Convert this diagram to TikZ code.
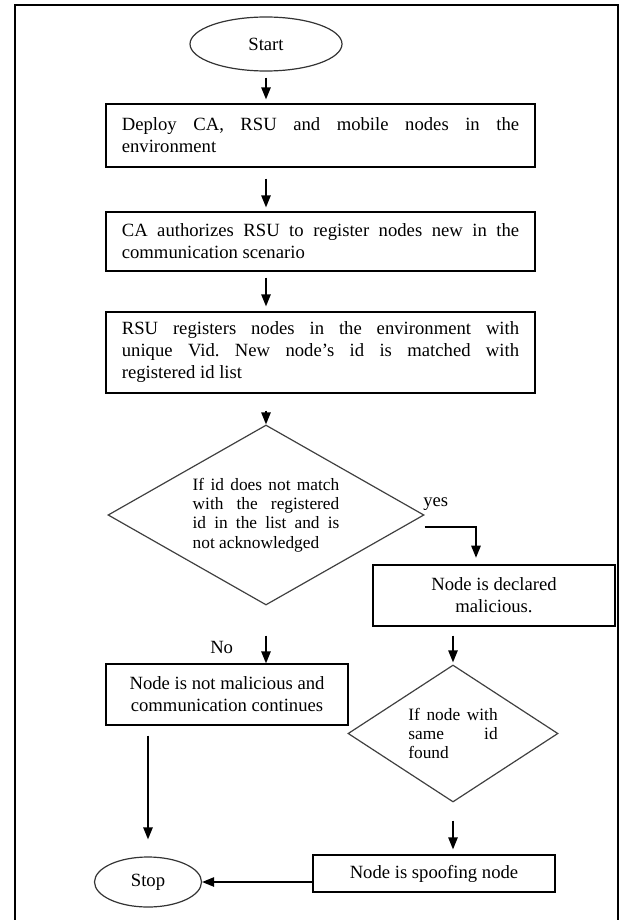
\documentclass[tikz,border=0pt]{standalone}
\usepackage{fontspec}
\setmainfont{Liberation Serif}
\usetikzlibrary{shapes.geometric,arrows.meta}
\hyphenpenalty=10000
\exhyphenpenalty=10000
\frenchspacing

\tikzset{
    process/.style={draw=black, line width=0.9pt, text width=298pt, inner xsep=11.9pt,
        align=justify, font=\fontsize{14}{16.5}\selectfont},
    smallbox/.style={draw=black, line width=0.9pt, minimum width=181.5pt,
        align=center, font=\fontsize{14}{16.5}\selectfont},
    decision/.style={diamond, draw=black!75, line width=0.9pt, inner sep=0pt,
        align=justify, font=\fontsize{13}{14.6}\selectfont},
    term/.style={ellipse, draw=black!80, line width=0.9pt, inner sep=0pt,
        font=\fontsize{14}{16.5}\selectfont},
    branchtext/.style={font=\fontsize{14}{16.5}\selectfont, inner sep=0pt},
    flow/.style={-{Triangle[length=9pt,width=7pt]}, line width=1.2pt}
}

\begin{document}
\begin{tikzpicture}[x=0.75pt, y=-0.75pt]
    \useasboundingbox (0,0) rectangle (621,920);

    % Outer frame
    \draw[line width=2.2pt] (15,920) -- (15,5) -- (618,5) -- (618,920);

    % Start
    \node[term, minimum width=114pt, minimum height=40.5pt] (start) at (266,44) {Start};

    % Setup steps
    \node[process, minimum height=47.25pt] (deploy) at (320.5,135.5)
        {Deploy CA, RSU and mobile nodes in the\linebreak environment};
    \node[process, minimum height=44.25pt] (authorize) at (320.5,241.5)
        {CA authorizes RSU to register nodes new in the\linebreak communication scenario};
    \node[process, minimum height=60.75pt] (register) at (320.5,352.5)
        {RSU registers nodes in the environment with\linebreak unique Vid. New node’s id is matched with\linebreak registered id list};

    % Id check
    \node[decision, aspect=1.76, minimum width=237pt, minimum height=135pt, text width=110pt] (idcheck) at (266,515)
        {If id does not match\linebreak with the registered\linebreak id in the list and is\linebreak not acknowledged};

    % Results
    \node[smallbox, minimum height=45.75pt] (malicious) at (494,595.5) {Node is declared\\malicious.};
    \node[smallbox, minimum height=45.75pt] (safe) at (227,694.5) {Node is not malicious and\\communication continues};
    \node[decision, aspect=1.53, minimum width=157.5pt, minimum height=102.75pt, text width=67pt] (samecheck) at (453,733.5)
        {If node with\linebreak same id\linebreak found};
    \node[smallbox, minimum height=27.75pt] (spoof) at (434,873.5) {Node is spoofing node};

    % Stop
    \node[term, minimum width=80.25pt, minimum height=37.5pt] (stop) at (148,882) {Stop};

    % Branch labels
    \node[branchtext, anchor=base west] (yes) at (423,506) {yes};
    \node[branchtext, anchor=base west] (no) at (210,653) {No};

    % Connectors
    \draw[flow, shorten <=4.5pt, shorten >=3pt] (start.south) -- (deploy.north -| start);
    \draw[flow, shorten <=8.25pt, shorten >=3pt] (deploy.south -| start) -- (authorize.north -| start);
    \draw[flow, shorten <=4.5pt, shorten >=3.75pt] (authorize.south -| start) -- (register.north -| start);
    \draw[flow, shorten <=12.75pt] (register.south -| idcheck) -- (idcheck.north);

    \coordinate (yesturn) at (476,527);
    \draw[flow, shorten >=5pt] ([yshift=-9pt]idcheck.east) -- (yesturn) -- (yesturn |- malicious.north);
    \draw[flow, shorten <=22.5pt] (idcheck.south) -- (safe.north -| idcheck);

    \draw[flow, shorten <=6.75pt, shorten >=1.5pt] (malicious.south -| samecheck) -- (samecheck.north);
    \draw[flow, shorten <=13.5pt, shorten >=3.75pt] (samecheck.south) -- (spoof.north -| samecheck);
    \draw[flow, shorten <=7.5pt, shorten >=12.75pt] (safe.south -| stop) -- (stop.north);
    \draw[flow] (spoof.west |- stop.east) -- (stop.east);

\end{tikzpicture}
\end{document}
